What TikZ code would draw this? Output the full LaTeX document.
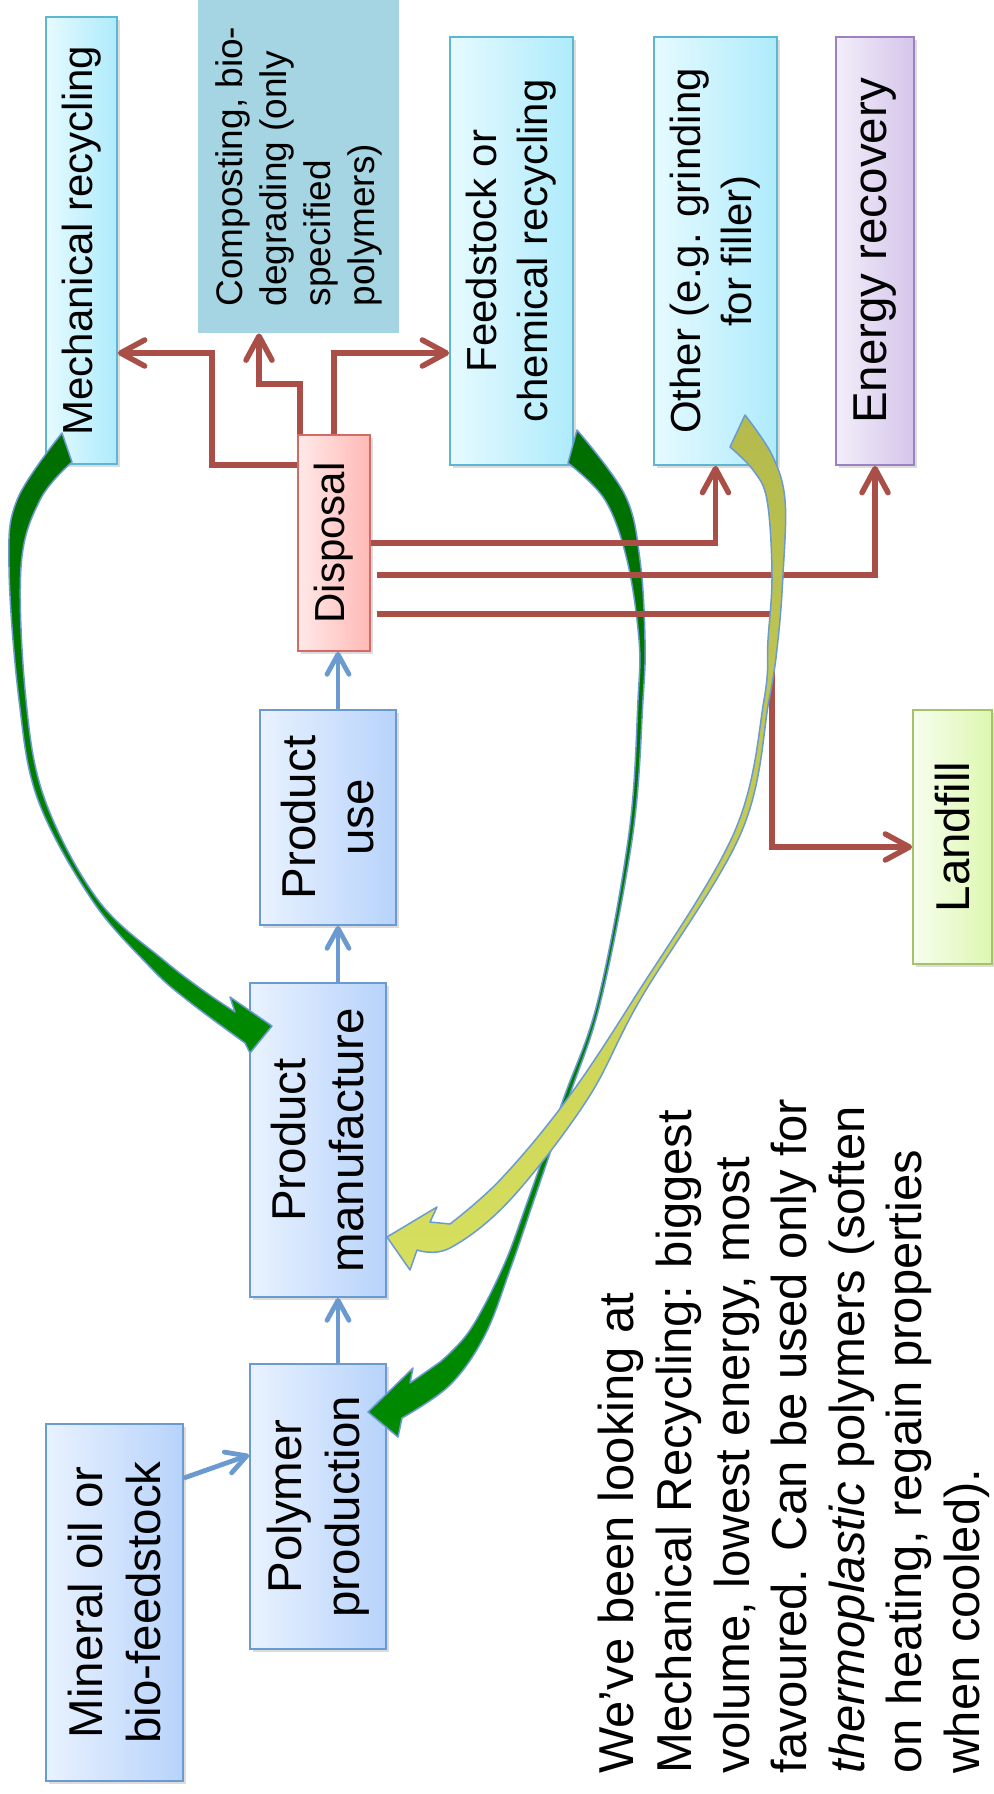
\documentclass[tikz,border=0pt]{standalone}
\usepackage{fontspec}
\setmainfont{Liberation Sans}
\usetikzlibrary{arrows.meta,shadows}

\definecolor{procline}{HTML}{6A9AD0}
\definecolor{procA}{HTML}{E9F2FF}
\definecolor{procB}{HTML}{B7D3FB}
\definecolor{recline}{HTML}{5DB7D0}
\definecolor{recA}{HTML}{E6FAFF}
\definecolor{recB}{HTML}{AEEBFB}
\definecolor{displine}{HTML}{D46A66}
\definecolor{dispA}{HTML}{FFE9E9}
\definecolor{dispB}{HTML}{FFB9B5}
\definecolor{enline}{HTML}{9C82C0}
\definecolor{enA}{HTML}{F3EEFA}
\definecolor{enB}{HTML}{D4C5EA}
\definecolor{lfline}{HTML}{A6C36A}
\definecolor{lfA}{HTML}{F7FEEE}
\definecolor{lfB}{HTML}{DDF7B0}
\definecolor{compfill}{HTML}{A5D5E2}
\definecolor{outred}{HTML}{A94F47}
\definecolor{flowblue}{HTML}{6A9AD0}
\definecolor{greenback}{HTML}{006E00}
\definecolor{greenfront}{HTML}{008A00}
\definecolor{yellowback}{HTML}{B4BA4C}
\definecolor{yellowfront}{HTML}{D7DF5E}

\begin{document}
\begin{tikzpicture}[x=0.5pt,y=-0.5pt,
  boxsize/.style 2 args={minimum width=#2*0.5pt,minimum height=#1*0.5pt},
  stage/.style={rotate=90,align=center,inner sep=0pt,line width=0.9pt,
    drop shadow={shadow xshift=1.5pt,shadow yshift=-1.5pt,opacity=0.3,fill=black!45}},
  bigtext/.style={font=\fontsize{23.75pt}{29pt}\selectfont},
  midtext/.style={font=\fontsize{21pt}{25.5pt}\selectfont},
  procbox/.style={stage,bigtext,draw=procline,left color=procA,right color=procB},
  recbox/.style={stage,midtext,draw=recline,left color=recA,right color=recB},
  dispbox/.style={stage,midtext,draw=displine,left color=dispA,right color=dispB},
  energybox/.style={stage,bigtext,draw=enline,left color=enA,right color=enB},
  landbox/.style={stage,bigtext,draw=lfline,left color=lfA,right color=lfB},
  compbox/.style={rotate=90,align=left,inner sep=0pt,fill=compfill,font=\fontsize{18.5pt}{22pt}\selectfont},
  outflow/.style={draw=outred,line width=2.75pt,-{Straight Barb[length=12pt,width=13pt,round]}},
  inflow/.style={draw=flowblue,line width=2.4pt,-{Straight Barb[length=10pt,width=11pt,round]}},
  loopband/.style={draw=flowblue,line width=0.75pt,line join=round}]
  \useasboundingbox (0,0) rectangle (993,1794);

  \node[recbox,boxsize={71}{447}] (mech) at (81.5,240.5) {Mechanical recycling};
  \node[compbox,boxsize={201}{333}] (comp) at (298.5,166.5) {Composting, bio-\\degrading (only\\specified\\polymers)};
  \node[recbox,boxsize={123}{428}] (feed) at (511.5,251) {Feedstock or\\chemical recycling};
  \node[recbox,boxsize={123}{428}] (other) at (715.5,251) {Other (e.g. grinding\\for filler)};
  \node[energybox,boxsize={78}{428}] (energy) at (875,251) {Energy recovery};
  \node[dispbox,boxsize={72}{216}] (disp) at (334,543) {Disposal};
  \node[procbox,boxsize={136}{215}] (use) at (328,817.5) {Product\\use};
  \node[procbox,boxsize={136}{314}] (manuf) at (318,1140) {Product\\manufacture};
  \node[procbox,boxsize={136}{285}] (polymer) at (318,1506.5) {Polymer\\production};
  \node[procbox,boxsize={137}{357}] (mineral) at (114.5,1602.5) {Mineral oil or\\bio-feedstock};
  \node[landbox,boxsize={79}{254}] (landfill) at (952.5,837) {Landfill};
  \node[rotate=90,anchor=west,align=left,inner sep=0pt,font=\fontsize{24.5pt}{28.8pt}\selectfont] (note) at (794,1774)
    {We’ve been looking at\\Mechanical Recycling: biggest\\volume, lowest energy, most\\favoured. Can be used only for\\\textit{thermoplastic} polymers (soften\\on heating, regain properties\\when cooled).};

  \coordinate (spine) at (338,0);
  \coordinate (mbend) at (212,353);
  \coordinate (ctop) at (300,384);
  \coordinate (cbend) at (259,384);
  \coordinate (lbend) at (772,847);

  \draw[loopband,top color=greenback,bottom color=greenfront]
    plot[smooth,tension=0.6] coordinates {(62,433) (17,500) (9,567) (19,700) (38,800) (92,900) (150,967) (187,1000) (245,1043)}
    -- (250,1053) -- (272,1026) -- (230,997) -- (235,1012)
    -- plot[smooth,tension=0.6] coordinates {(214,998) (166,962) (98,900) (45,800) (26,700) (21,567) (40,500) (72,462)}
    -- cycle;
  \draw[loopband,top color=greenback,bottom color=greenfront]
    plot[smooth,tension=0.6] coordinates {(577,430) (625,495) (640,560) (645,640) (643,700) (633,833) (601,1000) (568,1100) (534,1200) (511,1267) (485,1335) (450,1385) (402,1418)}
    -- (398,1437) -- (368,1412) -- (413,1368) -- (410,1383)
    -- plot[smooth,tension=0.6] coordinates {(440,1362) (470,1330) (503,1267) (528,1200) (563,1100) (598,1000) (629,833) (638,700) (639,640) (627,560) (605,500) (568,463)}
    -- cycle;

  \draw[outflow] (disp.north |- 0,465) -| (mbend) -- (mbend -| mech.south);
  \draw[outflow] (disp.east -| ctop) -- (ctop) -- (cbend) -- (cbend |- comp.west);
  \draw[outflow] (disp.east) |- (feed.north |- 0,353);
  \draw[outflow] (disp.south |- 0,543) -| (other.west);
  \draw[outflow] ([xshift=3pt]disp.south |- 0,575) -| (energy.west);
  \draw[outflow] ([xshift=3pt]disp.south |- 0,614) -| (lbend) -- (lbend -| landfill.north);

  \draw[inflow] (mineral.south |- 0,1478) -- (polymer.north |- 0,1455);
  \draw[inflow] (polymer.east -| spine) -- (manuf.west -| spine);
  \draw[inflow] (manuf.east -| spine) -- (use.west -| spine);
  \draw[inflow] (use.east -| spine) -- (disp.west -| spine);

  \draw[loopband,top color=yellowback,bottom color=yellowfront]
    plot[smooth,tension=0.6] coordinates {(745,415) (772,455) (785,500) (783,575) (778,640) (769,700) (741,833) (640,1000) (587,1100) (510,1200) (450,1248) (417,1250)}
    -- (410,1270) -- (387,1237) -- (437,1207) -- (430,1222)
    -- plot[smooth,tension=0.6] coordinates {(450,1224) (500,1180) (565,1102) (633,1000) (734,833) (764,700) (768,640) (772,575) (767,500) (753,470) (730,447)}
    -- cycle;
\end{tikzpicture}
\end{document}
